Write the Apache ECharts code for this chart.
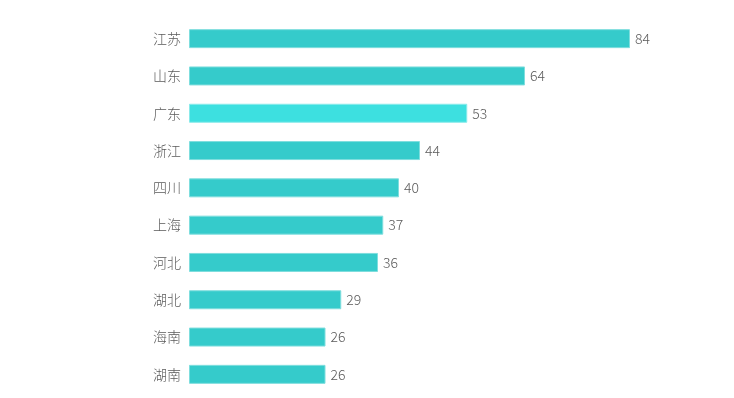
<!DOCTYPE html>
<html>
<head>
<meta charset="utf-8">
<script src="https://cdn.jsdelivr.net/npm/echarts@6/dist/echarts.min.js"></script>
<style>
    html, body { margin: 0; padding: 0; background: #fff; }
    #bar-chart { width: 734px; height: 398px; }
</style>
</head>
<body>
<div id="bar-chart"></div>
<script>
const provinces = ['江苏', '山东', '广东', '浙江', '四川', '上海', '河北', '湖北', '海南', '湖南']
const counts = [84, 64, 53, 44, 40, 37, 36, 29, 26, 26]
const highlight = '广东'

const dom = echarts.init(document.getElementById('bar-chart'))
const option = {
    textStyle: { fontFamily: '"Noto Sans CJK SC", "Noto Sans", sans-serif' },
    grid: { left: 189, right: 104, top: 20, bottom: 5 },
    xAxis: {
        type: 'value',
        min: 0,
        max: 84,
        show: false
    },
    yAxis: {
        type: 'category',
        data: provinces,
        inverse: true,
        axisLine: { show: false },
        axisTick: { show: false },
        axisLabel: { color: '#5a5a5a', fontSize: 14, fontWeight: 300, margin: 8 }
    },
    series: [{
        type: 'bar',
        data: counts.map((v, i) => ({
            value: v,
            itemStyle: provinces[i] === highlight ? { color: '#3de0e0', borderColor: '#8aeaea' } : {}
        })),
        barWidth: 19,
        itemStyle: { color: '#35cbcb', borderColor: '#7fdede', borderWidth: 1 },
        label: {
            show: true,
            position: 'right',
            distance: 5,
            color: '#5a5a5a',
            fontSize: 14,
            fontWeight: 300
        }
    }]
}
dom.setOption(option)
</script>
</body>
</html>
